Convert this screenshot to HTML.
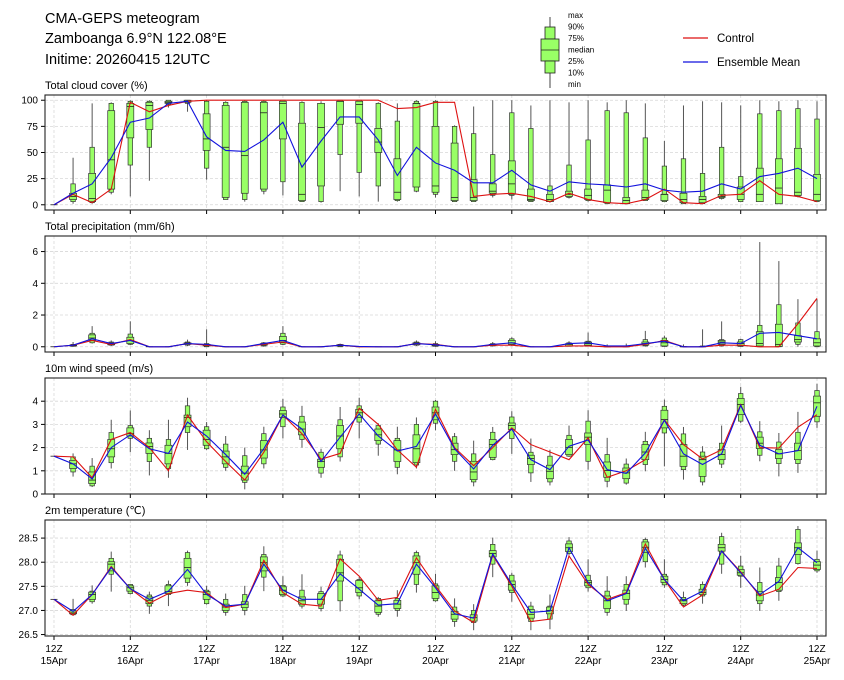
<!DOCTYPE html>
<html><head><meta charset="utf-8"><style>
html,body{margin:0;padding:0;background:#fff}
svg{display:block;font-family:"Liberation Sans","DejaVu Sans",sans-serif}
</style></head><body>
<svg id="chart" width="844" height="680" viewBox="0 0 844 680" xmlns="http://www.w3.org/2000/svg">
<g font-size="14.5" fill="#000">
<text x="45" y="23">CMA-GEPS meteogram</text>
<text x="45" y="43">Zamboanga 6.9°N 122.08°E</text>
<text x="45" y="64">Initime: 20260415 12UTC</text>
</g>
<g>
<line x1="550" y1="17" x2="550" y2="88" stroke="#444" stroke-width="1"/>
<rect x="545" y="27" width="10" height="12" fill="#99ff66" stroke="#222" stroke-width="0.8"/>
<rect x="541" y="39" width="18" height="22" fill="#99ff66" stroke="#222" stroke-width="0.8"/>
<rect x="545" y="61" width="10" height="12" fill="#99ff66" stroke="#222" stroke-width="0.8"/>
<line x1="541" y1="50" x2="559" y2="50" stroke="#222" stroke-width="0.8"/>
<g font-size="8" fill="#000">
<text x="568" y="18">max</text><text x="568" y="29.5">90%</text><text x="568" y="41">75%</text><text x="568" y="52.5">median</text><text x="568" y="64">25%</text><text x="568" y="75.5">10%</text><text x="568" y="87">min</text>
</g></g>
<g font-size="11.5">
<line x1="683" y1="38" x2="708" y2="38" stroke="#dd1111" stroke-width="1.2"/>
<text x="717" y="42">Control</text>
<line x1="683" y1="62" x2="708" y2="62" stroke="#1111dd" stroke-width="1.2"/>
<text x="717" y="66">Ensemble Mean</text>
</g>
<g id="panels"></g>
</svg>
<script>
const hours = [];
for (let h = 0; h <= 240; h += 6) hours.push(h);
const dayTicks = ["15Apr","16Apr","17Apr","18Apr","19Apr","20Apr","21Apr","22Apr","23Apr","24Apr","25Apr"];

// Cloud cover
const cloudMax=[0,45,97,98,100,100,100,100,100,99,100,100,100,99,99,100,100,98,97,100,100,76,94,100,100,95,100,98,100,98,100,97,61,95,99,98,95,100,99,100,99];
const cloudP90=[0,20,55,97,99,99,100,100,99,98,99,99,100,98,97,100,100,97,80,99,99,75,68,48,88,73,18,38,62,90,88,64,37,44,30,55,27,87,90,92,82];
const cloudQ75=[0,11,30,90,97,98,99,100,87,95,98,98,99,78,97,99,99,73,44,97,75,59,24,20,42,15,10,13,15,19,7,14,10,11,8,10,17,35,44,54,29];
const cloudMed=[0,8,6,43,94,95,98,99,63,55,47,88,97,10,74,99,96,60,12,97,18,7,7,13,20,5,5,10,9,14,4,7,10,5,5,8,10,10,16,12,10];
const cloudQ25=[0,5,3,15,64,72,97,98,52,7,11,15,63,4,18,77,78,50,5,17,12,4,4,11,10,4,3,8,5,2,1,5,4,2,2,7,5,3,1,9,4];
const cloudP10=[0,3,2,12,38,55,96,97,35,5,5,13,22,3,3,48,31,18,4,13,10,3,3,9,9,3,3,7,4,1,1,4,3,1,1,6,3,3,1,8,3];
const cloudMin=[0,1,1,10,8,23,93,89,24,5,3,10,9,3,2,13,8,3,3,12,7,3,3,7,5,3,2,6,3,1,1,4,3,1,1,5,3,3,1,7,3];
const cloudCtrl=[0,10,2,15,98,89,95,99,100,100,100,100,100,100,100,100,100,100,92,93,98,98,8,10,11,8,3,11,5,2,1,5,15,2,1,9,10,23,10,8,3];
const cloudMean=[0,11,20,45,79,83,97,99,65,52,51,62,79,36,61,84,84,62,28,55,40,33,21,21,33,19,13,22,20,19,17,20,14,12,13,20,15,27,30,35,25];

// Precipitation
const precMax=[0,0.3,1.3,0.4,1.6,0,0,0.45,1.1,0,0,0.3,1.3,0,0,0.2,0,0,0,0.4,0.35,0,0,0.3,0.6,0,0,0.35,0.9,0.15,0.2,1.0,0.7,0.15,1.1,1.6,0.5,6.6,5.4,3.0,3.0];
const precP90=[0,0.15,0.85,0.3,0.8,0,0,0.3,0.2,0,0,0.25,0.85,0,0,0.15,0,0,0,0.3,0.2,0,0,0.2,0.5,0,0,0.25,0.35,0.03,0.03,0.45,0.55,0.02,0.05,0.45,0.45,1.35,2.65,1.5,0.95];
const precQ75=[0,0.1,0.75,0.25,0.6,0,0,0.25,0.15,0,0,0.2,0.65,0,0,0.12,0,0,0,0.25,0.15,0,0,0.15,0.4,0,0,0.2,0.3,0.02,0.02,0.3,0.4,0.01,0.02,0.4,0.3,0.95,1.42,0.7,0.5];
const precMed=[0,0.08,0.55,0.18,0.4,0,0,0.2,0.1,0,0,0.15,0.4,0,0,0.1,0,0,0,0.2,0.1,0,0,0.1,0.25,0,0,0.15,0.2,0,0,0.2,0.25,0,0,0.3,0.2,0.2,0.15,0.45,0.25];
const precQ25=[0,0.05,0.4,0.12,0.2,0,0,0.15,0.05,0,0,0.1,0.25,0,0,0.05,0,0,0,0.12,0.05,0,0,0.08,0.15,0,0,0.05,0.1,0,0,0.1,0.05,0,0,0.15,0.05,0.05,0.02,0.3,0.05];
const precP10=[0,0.03,0.25,0.1,0.15,0,0,0.1,0,0,0,0.05,0.15,0,0,0,0,0,0,0.1,0.03,0,0,0.05,0.1,0,0,0.03,0.05,0,0,0.05,0.02,0,0,0.05,0.02,0,0,0.15,0];
const precMin=[0,0,0.2,0.05,0.1,0,0,0.05,0,0,0,0,0.1,0,0,0,0,0,0,0.05,0,0,0,0.03,0.05,0,0,0,0.02,0,0,0.02,0,0,0,0.02,0,0,0,0,0];
const precCtrl=[0,0.1,0.4,0.15,0.45,0,0,0.2,0.1,0,0,0.15,0.3,0,0,0.1,0,0,0,0.2,0.15,0,0,0.1,0.1,0,0,0.05,0.05,0,0,0.15,0.4,0,0,0.1,0.1,0,0,1.45,3.05];
const precMean=[0,0.1,0.5,0.2,0.4,0,0,0.2,0.15,0,0,0.2,0.4,0,0,0.1,0.02,0,0,0.2,0.12,0,0,0.15,0.25,0,0,0.2,0.25,0.05,0.05,0.2,0.35,0,0,0.25,0.2,0.85,0.9,0.7,0.5];

// Wind speed
const windMax=[1.63,1.75,1.55,3.2,3.6,2.75,3.2,4.15,3.1,2.5,2.0,2.9,4.1,3.8,1.95,3.75,4.15,3.05,2.9,3.3,4.05,2.63,2.3,2.89,3.57,2.39,1.91,2.95,3.61,2.42,1.53,2.68,4.07,2.89,2.06,2.95,4.62,3.14,2.63,3.54,4.75];
const windP90=[1.63,1.6,1.2,2.65,2.95,2.4,2.35,3.8,2.9,2.15,1.65,2.6,3.75,3.35,1.8,3.2,3.8,2.95,2.4,3.0,4.0,2.47,1.73,2.66,3.32,1.8,1.63,2.53,3.14,1.7,1.29,2.27,3.78,2.59,1.81,2.19,4.33,2.68,2.24,2.66,4.46];
const windQ75=[1.63,1.45,0.95,2.35,2.85,2.2,2.1,3.4,2.75,1.85,1.2,2.3,3.6,3.1,1.5,2.95,3.65,2.8,2.3,2.55,3.75,2.19,1.41,2.35,3.06,1.67,1.24,2.35,2.63,1.38,1.12,2.13,3.61,2.13,1.63,1.91,4.12,2.45,1.91,2.19,4.22];
const windMed=[1.63,1.3,0.6,1.95,2.6,2.05,1.75,3.3,2.35,1.6,0.9,1.9,3.45,2.8,1.4,2.5,3.5,2.55,1.9,1.95,3.5,1.91,0.95,2.13,2.95,1.53,0.98,2.01,2.45,1.01,0.91,1.81,3.21,1.63,1.48,1.7,3.86,2.19,1.73,1.87,3.93];
const windQ25=[1.63,1.1,0.45,1.6,2.5,1.75,1.3,2.9,2.1,1.3,0.6,1.55,3.3,2.55,1.15,1.95,3.3,2.3,1.4,1.35,3.2,1.7,0.62,1.58,2.78,1.27,0.66,1.7,2.13,0.72,0.66,1.48,2.85,1.19,0.76,1.48,3.42,1.96,1.53,1.48,3.35];
const windP10=[1.63,0.95,0.35,1.35,2.4,1.4,1.1,2.65,1.95,1.15,0.5,1.3,2.9,2.35,0.9,1.6,3.1,2.15,1.15,1.25,3.05,1.41,0.52,1.48,2.39,0.91,0.52,1.63,1.41,0.55,0.47,1.27,2.63,1.05,0.52,1.29,3.14,1.67,1.31,1.31,3.11];
const windMin=[1.63,0.75,0.3,1.1,1.8,0.8,0.7,1.9,1.9,1.0,0.2,1.1,2.4,2.0,0.7,1.4,2.4,1.65,0.85,1.1,2.75,1.0,0.33,1.45,1.73,0.52,0.37,1.6,1.05,0.29,0.4,0.98,1.19,0.62,0.37,1.12,3.06,1.41,0.76,0.91,2.85];
const windCtrl=[1.63,1.6,0.7,2.35,2.65,2.0,1.0,3.4,2.25,1.4,0.6,1.8,3.4,2.6,1.5,1.75,3.7,3.0,1.9,1.15,3.65,2.0,1.22,2.0,2.85,2.13,1.81,1.48,2.42,0.72,1.0,1.48,3.2,2.13,1.51,1.91,3.85,2.0,1.98,2.88,3.42];
const windMean=[1.63,1.3,0.65,2.0,2.55,1.95,1.75,3.1,2.5,1.7,0.85,1.95,3.4,2.8,1.4,2.45,3.45,2.5,1.85,2.05,3.45,1.95,1.08,2.1,2.8,1.48,1.05,2.06,2.33,1.05,0.89,1.77,3.18,1.73,1.27,1.73,3.82,2.1,1.73,1.87,3.78];

// Temperature
const tempMax=[27.23,27.24,27.52,28.22,27.55,27.39,27.62,28.24,27.51,27.35,27.51,28.33,27.71,27.75,27.49,28.24,27.69,27.28,27.42,28.24,27.76,27.25,27.13,28.51,27.78,27.18,27.33,28.52,28.06,27.71,27.71,28.51,28.06,27.39,27.6,28.61,28.13,27.89,28.09,28.75,28.24];
const tempP90=[27.23,27.02,27.4,28.08,27.54,27.32,27.54,28.2,27.42,27.23,27.33,28.16,27.52,27.42,27.39,28.15,27.64,27.25,27.25,28.2,27.55,27.07,27.0,28.37,27.73,27.09,27.09,28.44,27.73,27.4,27.54,28.47,27.75,27.27,27.54,28.53,27.92,27.58,27.92,28.68,28.06];
const tempQ75=[27.23,26.99,27.38,28.01,27.51,27.28,27.51,28.08,27.39,27.13,27.18,28.11,27.49,27.28,27.35,28.06,27.62,27.2,27.21,28.13,27.51,26.98,26.91,28.24,27.61,27.02,27.07,28.38,27.62,27.3,27.42,28.42,27.71,27.23,27.44,28.37,27.85,27.39,27.68,28.4,28.01];
const tempMed=[27.23,26.95,27.33,27.96,27.47,27.21,27.39,27.89,27.33,27.07,27.13,27.99,27.42,27.2,27.23,27.78,27.47,27.09,27.13,27.99,27.37,26.92,26.85,28.18,27.54,26.92,27.0,28.3,27.58,27.2,27.35,28.31,27.64,27.2,27.37,28.3,27.78,27.32,27.58,28.3,27.94];
const tempQ25=[27.23,26.93,27.23,27.82,27.4,27.14,27.35,27.67,27.23,27.0,27.06,27.82,27.33,27.13,27.13,27.61,27.37,26.96,27.04,27.75,27.25,26.82,26.78,28.11,27.42,26.84,26.93,28.22,27.51,27.04,27.23,28.2,27.58,27.14,27.33,28.23,27.73,27.2,27.42,28.16,27.85];
const tempP10=[27.23,26.91,27.18,27.75,27.35,27.09,27.33,27.58,27.14,26.96,27.0,27.69,27.3,27.09,27.04,27.2,27.3,26.92,27.0,27.54,27.2,26.77,26.75,27.96,27.37,26.77,26.82,28.18,27.47,26.96,27.13,28.01,27.53,27.11,27.3,27.96,27.71,27.14,27.39,27.97,27.82];
const tempMin=[27.23,26.89,27.14,27.39,27.33,26.93,27.09,27.51,27.12,26.89,26.9,27.4,27.28,27.04,26.98,26.98,27.23,26.87,26.87,27.37,27.18,26.66,26.59,27.69,27.18,26.59,26.61,28.15,27.39,26.89,26.99,27.89,27.47,27.09,27.14,27.76,27.47,26.99,27.2,27.95,27.78];
const tempCtrl=[27.23,26.9,27.33,27.91,27.45,27.15,27.35,27.42,27.37,27.06,27.13,28.04,27.37,27.13,27.09,28.07,27.71,27.21,27.27,28.09,27.51,26.99,26.75,28.15,27.5,26.77,26.82,28.13,27.54,27.23,27.37,28.38,27.64,27.07,27.32,28.23,27.8,27.3,27.44,27.89,27.87];
const tempMean=[27.23,26.98,27.33,27.89,27.45,27.23,27.4,27.85,27.33,27.09,27.13,27.96,27.42,27.23,27.23,27.76,27.44,27.11,27.14,27.96,27.47,26.93,26.84,28.17,27.54,26.96,26.99,28.3,27.58,27.2,27.35,28.29,27.64,27.2,27.4,28.23,27.78,27.33,27.6,28.3,27.99];

const cloudTicks=[0,25,50,75,100];
const precTicks=[0,2,4,6];
const windTicks=[0,1,2,3,4];
const tempTicks=["26.5","27.0","27.5","28.0","28.5"];

const NS="http://www.w3.org/2000/svg";
const root=document.getElementById('panels');
const X0=45,X1=826,H0=-2.83,H1=242.83;
function xs(h){return X0+(h-H0)/(H1-H0)*(X1-X0);}
function mk(tag,attrs,parent){const e=document.createElementNS(NS,tag);for(const k in attrs)e.setAttribute(k,attrs[k]);parent.appendChild(e);return e;}

const panels=[
 {name:"cloud",title:"Total cloud cover (%)",top:95,bot:210,lo:-5,hi:105,ticks:cloudTicks,mx:cloudMax,p90:cloudP90,q75:cloudQ75,md:cloudMed,q25:cloudQ25,p10:cloudP10,mn:cloudMin,ctrl:cloudCtrl,mean:cloudMean},
 {name:"precip",title:"Total precipitation (mm/6h)",top:236,bot:352,lo:-0.33,hi:6.98,ticks:precTicks,mx:precMax,p90:precP90,q75:precQ75,md:precMed,q25:precQ25,p10:precP10,mn:precMin,ctrl:precCtrl,mean:precMean},
 {name:"wind",title:"10m wind speed (m/s)",top:378,bot:494,lo:0,hi:5.0,ticks:windTicks,mx:windMax,p90:windP90,q75:windQ75,md:windMed,q25:windQ25,p10:windP10,mn:windMin,ctrl:windCtrl,mean:windMean},
 {name:"temperature",title:"2m temperature (℃)",top:520,bot:636,lo:26.47,hi:28.875,ticks:tempTicks,mx:tempMax,p90:tempP90,q75:tempQ75,md:tempMed,q25:tempQ25,p10:tempP10,mn:tempMin,ctrl:tempCtrl,mean:tempMean}
];

panels.forEach((p,pi)=>{
 const g=mk('g',{},root);
 
 
 const ys=v=>p.bot-(v-p.lo)/(p.hi-p.lo)*(p.bot-p.top);
 const t=mk('text',{x:45,y:p.top-6,'font-size':11},g);
 
 
 t.textContent=p.title;
 // grid
 dayTicks.forEach((d,i)=>{
  const x=xs(i*24);
  const l=mk('line',{x1:x,x2:x,y1:p.top,y2:p.bot,stroke:'#d8d8d8','stroke-width':0.8,'stroke-dasharray':'3,2'},g);
  
  
  mk('line',{x1:x,x2:x,y1:p.bot,y2:p.bot+4,stroke:'#000','stroke-width':1},g);
 });
 p.ticks.forEach(tv=>{
  const y=ys(parseFloat(tv));
  const l=mk('line',{x1:X0,x2:X1,y1:y,y2:y,stroke:'#d8d8d8','stroke-width':0.8,'stroke-dasharray':'3,2'},g);
  
  
  mk('line',{x1:X0-4,x2:X0,y1:y,y2:y,stroke:'#000','stroke-width':1},g);
  const tl=mk('text',{x:X0-7,y:y+3.5,'font-size':10,'text-anchor':'end'},g);
  
  
  tl.textContent=String(tv);
 });
 // boxes
 hours.forEach((h,i)=>{
  const x=xs(h);
  const bg=mk('g',{},g);
  
  
  mk('line',{x1:x,x2:x,y1:ys(p.mx[i]),y2:ys(p.mn[i]),stroke:'#555','stroke-width':1},bg);
  const nw=4.5,ww=7;
  mk('rect',{x:x-nw/2,y:ys(p.p90[i]),width:nw,height:Math.max(0,ys(p.p10[i])-ys(p.p90[i])),fill:'#99ff66',stroke:'#333','stroke-width':0.7},bg);
  mk('rect',{x:x-ww/2,y:ys(p.q75[i]),width:ww,height:Math.max(0,ys(p.q25[i])-ys(p.q75[i])),fill:'#99ff66',stroke:'#333','stroke-width':0.7},bg);
  mk('line',{x1:x-ww/2,x2:x+ww/2,y1:ys(p.md[i]),y2:ys(p.md[i]),stroke:'#222','stroke-width':0.8},bg);
 });
 const lineFor=(arr,color,nm)=>{
  const pl=mk('polyline',{points:arr.map((v,i)=>xs(hours[i])+','+ys(v)).join(' '),fill:'none',stroke:color,'stroke-width':1.1},g);
  
  
 };
 lineFor(p.ctrl,'#dd1111','control');
 lineFor(p.mean,'#1111dd','ensemble-mean');
 const fr=mk('rect',{x:X0,y:p.top,width:X1-X0,height:p.bot-p.top,fill:'none',stroke:'#222','stroke-width':1.1},g);
 
 
 if(pi===3){
  dayTicks.forEach((d,i)=>{
   const x=xs(i*24);
   const a=mk('text',{x:x,y:p.bot+16,'font-size':10,'text-anchor':'middle'},g);
   
   
   a.textContent='12Z';
   const b=mk('text',{x:x,y:p.bot+28,'font-size':10,'text-anchor':'middle'},g);
   
   
   b.textContent=d;
  });
 }
});
</script>
</body></html>
